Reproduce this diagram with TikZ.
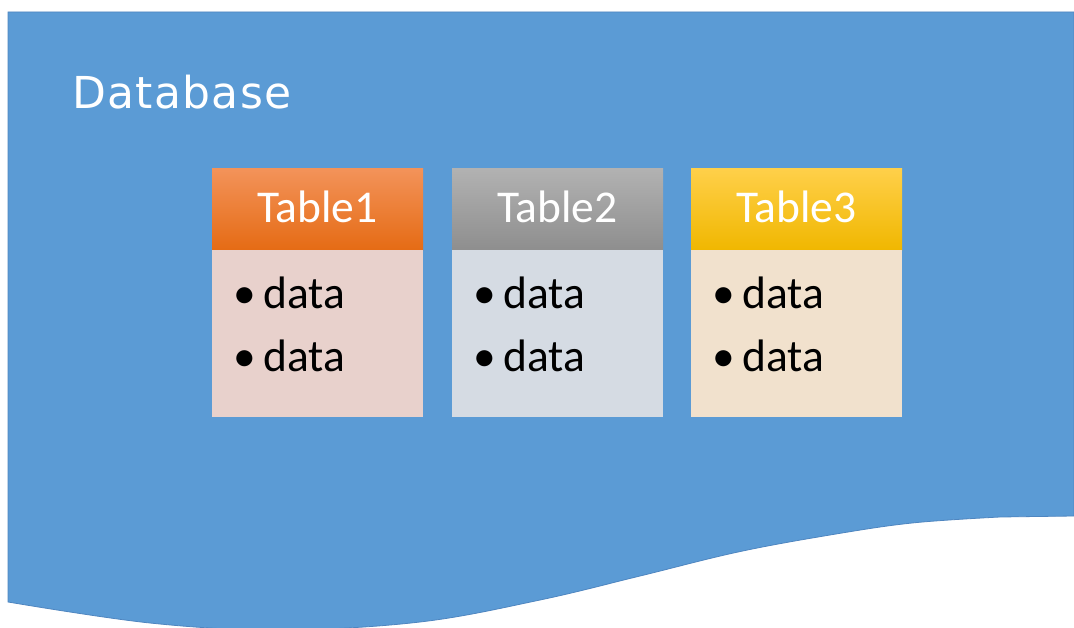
\documentclass[tikz,border=0pt]{standalone}
\usepackage{fontspec}
\setmainfont{Carlito}
\newfontfamily\dbfont[LetterSpace=3]{DejaVu Sans}
\definecolor{dbblue}{HTML}{5B9BD5}
\definecolor{dbedge}{HTML}{4F86C0}
\definecolor{orTop}{HTML}{F3935A}
\definecolor{orBot}{HTML}{E56B14}
\definecolor{orBody}{HTML}{E8D1CC}
\definecolor{grTop}{HTML}{B2B2B2}
\definecolor{grBot}{HTML}{8E8E8E}
\definecolor{grBody}{HTML}{D5DBE3}
\definecolor{yeTop}{HTML}{FFD04A}
\definecolor{yeBot}{HTML}{F0B700}
\definecolor{yeBody}{HTML}{F1E1CD}
\begin{document}
\begin{tikzpicture}[x=1pt,y=-1pt,
  hdr/.style={anchor=north west, minimum width=211pt, minimum height=82pt,
    inner sep=0pt, draw=none},
  bodybox/.style={anchor=north west, minimum width=211pt, minimum height=167pt,
    inner sep=0pt, draw=none},
  title/.style={anchor=base, text=white, inner sep=0pt,
    font=\fontsize{45.5}{54}\selectfont},
  item/.style={anchor=base west, text=black, inner sep=0pt,
    font=\fontsize{45.5}{54}\selectfont}]
\useasboundingbox (0,0) rectangle (1074,628);
\fill[white] (0,0) rectangle (1074,628);

% database shape with a wavy lower edge
\filldraw[fill=dbblue, draw=dbedge, line width=0.8pt]
  (8,12) -- (1074,12) -- (1074,516)
  -- plot[smooth, tension=0.6] coordinates {(1000,517) (912,523) (830,535)
     (738,552) (640,576) (540,600) (420,622) (280,630) (150,623) (8,602)}
  -- cycle;

\node[anchor=base west, text=white, inner sep=0pt,
  font=\dbfont\fontsize{44}{52}\selectfont] (db) at (72,109) {Database};

% Table1
\node[hdr, top color=orTop, bottom color=orBot] (h1) at (212,168) {};
\node[bodybox, fill=orBody] (b1) at (212,250) {};
\node[title] (t1) at (317.5,223) {Table1};
\node[item] (d1a) at (233,309) {\makebox[30pt][l]{•}data};
\node[item] (d1b) at (233,371) {\makebox[30pt][l]{•}data};

% Table2
\node[hdr, top color=grTop, bottom color=grBot] (h2) at (452,168) {};
\node[bodybox, fill=grBody] (b2) at (452,250) {};
\node[title] (t2) at (557.5,223) {Table2};
\node[item] (d2a) at (473,309) {\makebox[30pt][l]{•}data};
\node[item] (d2b) at (473,371) {\makebox[30pt][l]{•}data};

% Table3
\node[hdr, top color=yeTop, bottom color=yeBot] (h3) at (691,168) {};
\node[bodybox, fill=yeBody] (b3) at (691,250) {};
\node[title] (t3) at (796.5,223) {Table3};
\node[item] (d3a) at (712,309) {\makebox[30pt][l]{•}data};
\node[item] (d3b) at (712,371) {\makebox[30pt][l]{•}data};
\end{tikzpicture}
\end{document}
